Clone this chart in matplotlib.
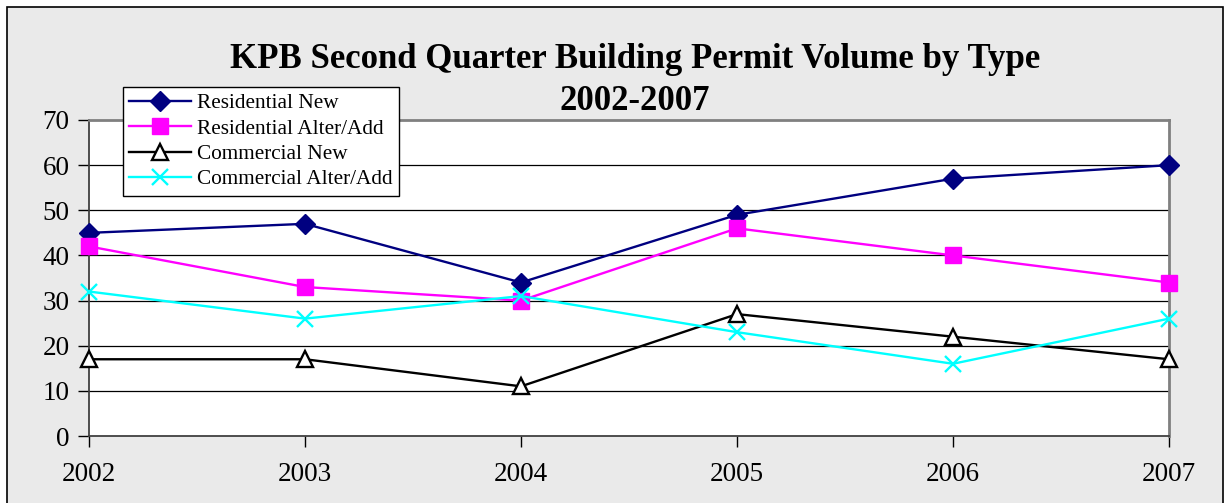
import matplotlib.pyplot as plt
from matplotlib.patches import Rectangle

years = ["2002", "2003", "2004", "2005", "2006", "2007"]
res_new = [45, 47, 34, 49, 57, 60]
res_alter = [42, 33, 30, 46, 40, 34]
com_new = [17, 17, 11, 27, 22, 17]
com_alter = [32, 26, 31, 23, 16, 26]

plt.rcParams['font.family'] = ['Liberation Serif', 'DejaVu Serif']

W, H = 1227, 503
fig = plt.figure(figsize=(W / 100, H / 100), dpi=100)
fig.patch.set_facecolor("white")

# chart area background + border (bottom edge runs off the image)
fig.patches.append(Rectangle((7 / W, -0.05), (1223 - 7) / W, (H - 7) / H + 0.05,
                             transform=fig.transFigure, facecolor="#EAEAEA",
                             edgecolor="black", linewidth=1.2, zorder=-10))

ax = fig.add_axes([89 / W, 1 - 436 / H, (1169 - 89) / W, (436 - 120) / H])
ax.set_facecolor("white")

x = list(range(len(years)))
ax.plot(x, res_new, color="#000080", lw=1.7, marker="D", ms=10,
        label="Residential New", clip_on=False, zorder=5)
ax.plot(x, res_alter, color="#FF00FF", lw=1.7, marker="s", ms=11,
        label="Residential Alter/Add", clip_on=False, zorder=5)
ax.plot(x, com_new, color="black", lw=1.7, marker="^", ms=11, mfc="white",
        mew=1.7, label="Commercial New", clip_on=False, zorder=5)
ax.plot(x, com_alter, color="#00FFFF", lw=1.7, marker="x", ms=11, mew=1.7,
        label="Commercial Alter/Add", clip_on=False, zorder=5)

ax.set_xlim(0, 5)
ax.set_ylim(0, 70)
ax.set_xticks(x)
ax.set_xticklabels(years)
ax.set_yticks(range(0, 71, 10))
ax.tick_params(axis="both", direction="out", length=8, width=1, labelsize=19.5)
ax.tick_params(axis="x", pad=11)
ax.tick_params(axis="y", pad=6)

for y in range(10, 70, 10):
    ax.axhline(y, color="black", lw=0.9, zorder=1)

for side in ["top", "right"]:
    ax.spines[side].set_color("#808080")
    ax.spines[side].set_linewidth(2)
ax.spines["left"].set_color("#404040")
ax.spines["bottom"].set_color("#404040")
ax.spines["left"].set_linewidth(1.3)
ax.spines["bottom"].set_linewidth(1.3)

fig.text(635 / W, 1 - 60 / H, "KPB Second Quarter Building Permit Volume by Type",
         ha="center", va="center", fontsize=25, fontweight="bold")
fig.text(635 / W, 1 - 101 / H, "2002-2007",
         ha="center", va="center", fontsize=25, fontweight="bold")

leg = fig.legend(loc="upper left", bbox_to_anchor=(123 / W, 1 - 87 / H),
                 fontsize=15.3, frameon=True, fancybox=False, borderpad=0.3,
                 labelspacing=0.26, handlelength=2.9, handletextpad=0.3,
                 borderaxespad=0)
leg.get_frame().set_edgecolor("black")
leg.get_frame().set_linewidth(1)
leg.get_frame().set_facecolor("white")
leg.get_frame().set_alpha(1)

fig.savefig("out.png", dpi=100)
